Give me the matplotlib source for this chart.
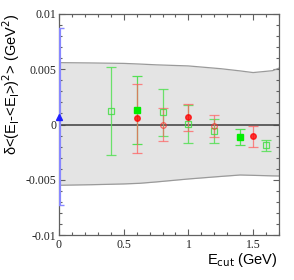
import matplotlib
matplotlib.use("Agg")
import matplotlib.pyplot as plt
from matplotlib.ticker import MultipleLocator, FixedFormatter, FixedLocator
import numpy as np

# ---- data ----
band_x  = [0.0, 0.25, 0.5, 0.625, 0.75, 1.0, 1.25, 1.4, 1.5, 1.65, 1.7]
band_hi = [0.0056, 0.00557, 0.00553, 0.00547, 0.0054, 0.0053, 0.00505, 0.00485, 0.0047, 0.00487, 0.0051]
band_lo = [-0.0055, -0.00545, -0.00538, -0.00532, -0.0052, -0.00493, -0.0047, -0.00457, -0.0046, -0.00465, -0.00466]

blue_x, blue_y, blue_err = [0.0], [0.0007], [0.008]

green_open_x   = [0.4, 0.8, 1.0, 1.2, 1.6]
green_open_y   = [0.0012, 0.0011, 0.00005, -0.00057, -0.00186]
green_open_err = [0.0040, 0.0021, 0.0017, 0.0011, 0.0005]

green_fill_x   = [0.6, 1.4]
green_fill_y   = [0.0013, -0.00116]
green_fill_err = [0.0031, 0.00072]

red_open_x   = [0.8, 1.2]
red_open_y   = [0.0, -0.0001]
red_open_err = [0.0015, 0.001]

red_fill_x   = [0.6, 1.0, 1.5]
red_fill_y   = [0.00055, 0.00065, -0.00105]
red_fill_err = [0.0031, 0.0012, 0.00095]

xticks = [0, 0.5, 1, 1.5]
xticklabels = ["0", "0.5", "1", "1.5"]
yticks = [-0.01, -0.005, 0, 0.005, 0.01]
yticklabels = ["-0.01", "-0.005", "0", "0.005", "0.01"]

# ---- figure ----
W, H = 294, 280
fig = plt.figure(figsize=(W / 100, H / 100), dpi=100)
ax = fig.add_axes([59 / W, 1 - 235 / H, (279 - 59) / W, (235 - 14) / H])

ax.set_xlim(0, 1.7)
ax.set_ylim(-0.01, 0.01)

ax.fill_between(band_x, band_lo, band_hi, color="#e4e4e4", lw=0, zorder=1)
ax.plot(band_x, band_hi, color="#9a9a9a", lw=0.9, zorder=2)
ax.plot(band_x, band_lo, color="#9a9a9a", lw=0.9, zorder=2)

ax.axhline(0, color="#4a4a4a", lw=1.2, zorder=3)

cap = 3.6
ms = 4.0
gcol_bar = "#55e055"
rcol_bar = "#ff6060"

# blue
eb = ax.errorbar(blue_x, blue_y, yerr=blue_err, fmt="none",
                 ecolor="#8888ff", elinewidth=2.3, capsize=cap, capthick=1.0, zorder=9)
for c in eb[1]:
    c.set_clip_on(True)
for c in eb[2]:
    c.set_clip_on(True)
ax.plot(blue_x, blue_y, "^", color="#2020ff", ms=4, zorder=10, clip_on=False)

# green open
ax.errorbar(green_open_x, green_open_y, yerr=green_open_err, fmt="s", ms=ms,
            mfc="none", mec="#44dd44", mew=0.9, ecolor=gcol_bar, elinewidth=0.9,
            capsize=cap, capthick=0.9, alpha=0.85, zorder=5)
# green filled
ax.errorbar(green_fill_x, green_fill_y, yerr=green_fill_err, fmt="s", ms=ms,
            mfc="#00ee00", mec="#00ee00", ecolor=gcol_bar, elinewidth=0.9,
            capsize=cap, capthick=0.9, zorder=5)
# red open
ax.errorbar(red_open_x, red_open_y, yerr=red_open_err, fmt="o", ms=ms,
            mfc="none", mec="#ff3030", mew=0.9, ecolor=rcol_bar, elinewidth=0.9,
            capsize=cap, capthick=0.9, alpha=0.7, zorder=5)
# red filled
ax.errorbar(red_fill_x, red_fill_y, yerr=red_fill_err, fmt="o", ms=ms,
            mfc="#ff0000", mec="#ff0000", ecolor=rcol_bar, elinewidth=0.9,
            capsize=cap, capthick=0.9, alpha=0.75, zorder=5)

# ticks
ax.xaxis.set_major_locator(FixedLocator(xticks))
ax.xaxis.set_major_formatter(FixedFormatter(xticklabels))
ax.yaxis.set_major_locator(FixedLocator(yticks))
ax.yaxis.set_major_formatter(FixedFormatter(yticklabels))
ax.xaxis.set_minor_locator(MultipleLocator(0.1))
ax.yaxis.set_minor_locator(MultipleLocator(0.001))
ax.tick_params(which="both", direction="in", top=True, right=True, color="#606060", width=0.8)
ax.tick_params(which="major", length=4.2)
ax.tick_params(which="minor", length=2.2)
ax.tick_params(axis="x", pad=3)
ax.tick_params(axis="y", pad=2)
for lab in ax.get_xticklabels() + ax.get_yticklabels():
    lab.set_fontfamily("Liberation Serif")
    lab.set_fontsize(8.5)
    lab.set_color("#222222")
for s in ax.spines.values():
    s.set_color("#606060")
    s.set_linewidth(0.9)
    s.set_zorder(4)

fig.text(278 / W, 1 - 264 / H, r"E$_{\mathrm{cut}}$ (GeV)", ha="right", va="baseline",
         fontsize=10.5, family="Liberation Sans")
fig.text(11 / W, 1 - 13 / H, "δ<(E$_{\\mathrm{l}}$-<E$_{\\mathrm{l}}$>)$^{2}$> (GeV$^{2}$)",
         rotation=90, ha="center", va="top", fontsize=10.5, family="Liberation Sans")

fig.savefig("out.png", dpi=100)
